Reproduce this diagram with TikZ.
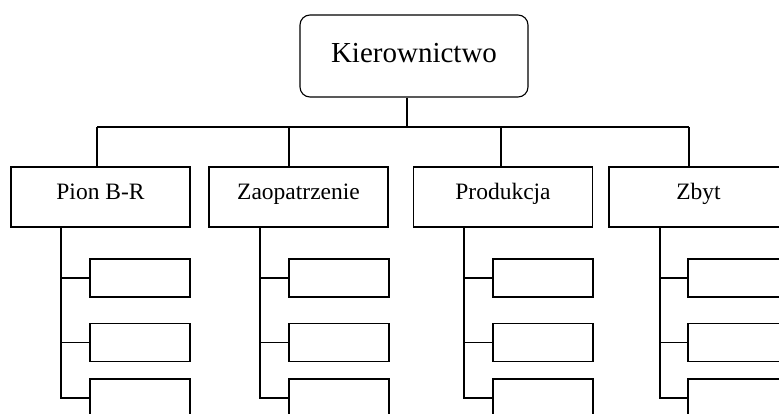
\documentclass[tikz,border=0pt]{standalone}
\usepackage{fontspec}
\setmainfont{Liberation Serif}
\begin{document}
\begin{tikzpicture}[x=1pt,y=-1pt, line width=1.1pt,
  topbox/.style={draw, rounded corners=10pt, minimum width=228pt, minimum height=82pt, inner sep=0pt, text height=20pt, text depth=6pt, font=\fontsize{29}{34}\selectfont},
  divbox/.style={draw, minimum width=179pt, minimum height=60pt, inner sep=0pt, text height=12pt, text depth=6pt, font=\fontsize{23.5}{28}\selectfont},
  subbox/.style={draw, minimum width=100pt, minimum height=38pt, inner sep=0pt}]
\useasboundingbox (0,0) rectangle (779,414);
\clip (0,0) rectangle (779,414);
\node[topbox] (top) at (414,56) {Kierownictwo};
\node[divbox] (d1) at (100.5,197) {Pion B-R};
\node[divbox] (d2) at (298.5,197) {Zaopatrzenie};
\node[divbox] (d3) at (503,197) {Produkcja};
\node[divbox] (d4) at (698.5,197) {Zbyt};
\coordinate (bus) at (407,127);
\coordinate (t1) at (97,127);
\coordinate (t2) at (289,127);
\coordinate (t3) at (501,127);
\coordinate (t4) at (689,127);
\draw (top.south -| bus) -- (bus);
\draw (t1) -- (t4);
\foreach \i in {1,...,4} { \draw (t\i) -- (t\i |- d\i.north); }
\foreach \i/\l/\v in {1/90/61, 2/289/260, 3/493/464, 4/688/660} {
  \node[subbox] (s\i a) at (\l+50,278) {};
  \node[subbox] (s\i b) at (\l+50,342.5) {};
  \node[subbox] (s\i c) at (\l+50,398) {};
  \coordinate (v\i) at (\v,227);
  \draw (d\i.south -| v\i) -- (v\i |- s\i c.west) -- (s\i c.west);
  \draw (v\i |- s\i a.west) -- (s\i a.west);
  \draw (v\i |- s\i b.west) -- (s\i b.west);
}
\end{tikzpicture}
\end{document}
